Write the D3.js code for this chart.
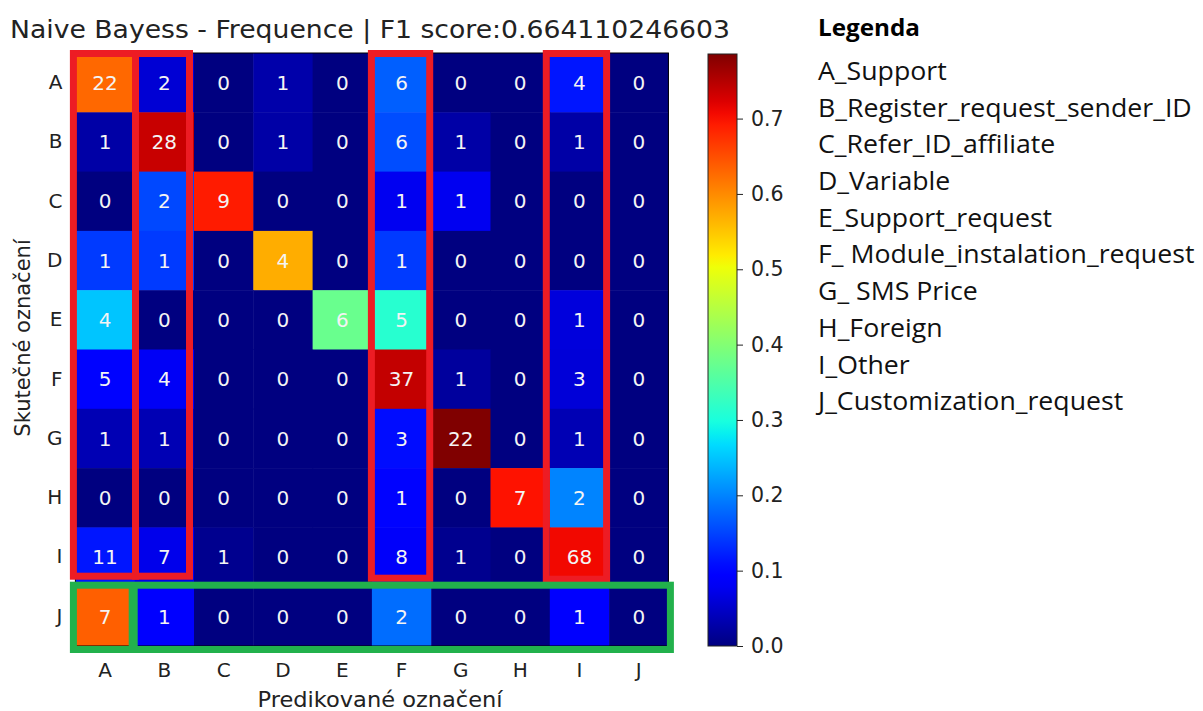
<!DOCTYPE html>
<html><head><meta charset="utf-8">
<script src="https://cdn.jsdelivr.net/npm/d3@7"></script>
<style>body{margin:0;background:#fff}</style>
</head><body>
<svg id="c" width="1203" height="711"></svg>
<script>
const labels = ["A","B","C","D","E","F","G","H","I","J"];
const counts = [
 [22,2,0,1,0,6,0,0,4,0],
 [1,28,0,1,0,6,1,0,1,0],
 [0,2,9,0,0,1,1,0,0,0],
 [1,1,0,4,0,1,0,0,0,0],
 [4,0,0,0,6,5,0,0,1,0],
 [5,4,0,0,0,37,1,0,3,0],
 [1,1,0,0,0,3,22,0,1,0],
 [0,0,0,0,0,1,0,7,2,0],
 [11,7,1,0,0,8,1,0,68,0],
 [7,1,0,0,0,2,0,0,1,0]
];
const cbTicks = [0,0.1,0.2,0.3,0.4,0.5,0.6,0.7];
const legendItems = ["A_Support","B_Register_request_sender_ID","C_Refer_ID_affiliate","D_Variable","E_Support_request","F_ Module_instalation_request","G_ SMS Price","H_Foreign","I_Other","J_Customization_request"];
const titleText = "Naive Bayess - Frequence | F1 score:0.664110246603";

const norm = counts.map(r => { const s = d3.sum(r); return r.map(v => v / s); });
const vmax = d3.max(norm.flat());

function interp(pts, t){
  for (let i=1;i<pts.length;i++){
    if (t <= pts[i][0]) { const [x0,y0]=pts[i-1],[x1,y1]=pts[i]; return y0 + (y1-y0)*(t-x0)/(x1-x0); }
  }
  return pts[pts.length-1][1];
}
const R=[[0,0],[0.35,0],[0.66,1],[0.89,1],[1,0.5]];
const G=[[0,0],[0.125,0],[0.375,1],[0.64,1],[0.91,0],[1,0]];
const B=[[0,0.5],[0.11,1],[0.34,1],[0.65,0],[1,0]];
function jet(t){ t=Math.max(0,Math.min(1,t)); return d3.rgb(255*interp(R,t),255*interp(G,t),255*interp(B,t)).toString(); }

const svg = d3.select("#c");
const L=75.4, T=53, S=593;
const x = d3.scaleBand().domain(labels).range([L,L+S]);
const y = d3.scaleBand().domain(labels).range([T,T+S]);
const col = d3.scaleLinear().domain([0,vmax]).range([0,1]);
const bw = x.bandwidth();

const cells = [];
counts.forEach((r,i)=>r.forEach((v,j)=>cells.push({row:labels[i],col:labels[j],v,n:norm[i][j]})));
svg.append("g").selectAll("rect").data(cells).join("rect")
  .attr("x",d=>x(d.col)).attr("y",d=>y(d.row)).attr("width",bw+0.5).attr("height",bw+0.5)
  .attr("fill",d=>jet(col(d.n)));
svg.append("g").selectAll("text").data(cells).join("text")
  .attr("x",d=>x(d.col)+bw/2).attr("y",d=>y(d.row)+bw/2).attr("dy","0.36em")
  .attr("text-anchor","middle").attr("fill","#f4f4f4")
  .style("font-family","DejaVu Sans").style("font-size","20px").text(d=>d.v);

svg.append("rect").attr("x",L).attr("y",T).attr("width",S).attr("height",S).attr("fill","none").attr("stroke","#000").attr("stroke-width",1);

// axes
const xAxis = svg.append("g").attr("transform",`translate(0,${T+S})`).call(d3.axisBottom(x).tickSize(5).tickPadding(8));
const yAxis = svg.append("g").attr("transform",`translate(${L},0)`).call(d3.axisLeft(y).tickSize(5).tickPadding(8));
[xAxis,yAxis].forEach(a=>{a.select(".domain").remove(); a.selectAll("text").style("font-family","DejaVu Sans").style("font-size","20px").attr("fill","#222"); a.selectAll("line").attr("stroke","#222");});
xAxis.selectAll("text").attr("dy","0.9em");

svg.append("text").attr("x",380).attr("y",707).attr("text-anchor","middle")
  .attr("textLength",245).attr("lengthAdjust","spacingAndGlyphs")
  .style("font-family","DejaVu Sans").style("font-size","20.5px").attr("fill","#222").text("Predikované označení");
svg.append("text").attr("transform",`translate(30,338) rotate(-90)`).attr("text-anchor","middle")
  .style("font-family","DejaVu Sans").style("font-size","21px").attr("fill","#222").text("Skutečné označení");
svg.append("text").attr("x",10).attr("y",38)
  .attr("textLength",720).attr("lengthAdjust","spacingAndGlyphs")
  .style("font-family","DejaVu Sans").style("font-size","24.5px").attr("fill","#222").text(titleText);

// colorbar
const cbX=708, cbW=29, cbT=54, cbB=646;
const cy = d3.scaleLinear().domain([0,vmax]).range([cbB,cbT]);
const defs = svg.append("defs");
const grad = defs.append("linearGradient").attr("id","jetg").attr("x1",0).attr("y1",1).attr("x2",0).attr("y2",0);
d3.range(0,1.0001,0.02).forEach(t=>grad.append("stop").attr("offset",t).attr("stop-color",jet(t)));
svg.append("rect").attr("x",cbX).attr("y",cbT).attr("width",cbW).attr("height",cbB-cbT).attr("fill","url(#jetg)").attr("stroke","#222").attr("stroke-width",1);
const cAxis = svg.append("g").attr("transform",`translate(${cbX+cbW},0)`).call(d3.axisRight(cy).tickValues(cbTicks).tickFormat(d3.format(".1f")).tickSize(6).tickPadding(8));
cAxis.select(".domain").remove();
cAxis.selectAll("text").style("font-family","DejaVu Sans").style("font-size","20.5px").attr("fill","#222");
cAxis.selectAll("line").attr("stroke","#222");

// highlight boxes
const red="#ed1c24", green="#22b14c", sw=7;
const yTop = y("A"), yBotI = y("I")+bw;
const boxes = [
  {x0:x("A")-2, x1:x("A")+bw+0.8, bot:yBotI-10.5},
  {x0:x("B")+0.8, x1:x("B")+bw-4.5, bot:yBotI-10.5},
  {x0:x("F")-0.5, x1:x("F")+bw-1.5, bot:yBotI-8.5},
  {x0:x("I")-3.5, x1:x("I")+bw-2.5, bot:yBotI-7.5}
];
svg.append("g").selectAll("rect").data(boxes).join("rect")
  .attr("x",d=>d.x0).attr("y",yTop+0.5).attr("width",d=>d.x1-d.x0).attr("height",d=>d.bot-yTop-0.5)
  .attr("fill","none").attr("stroke",red).attr("stroke-width",sw);
svg.append("rect").attr("x",x("A")-2).attr("y",y("J")-1.5).attr("width",x("J")+bw+2-(x("A")-2)).attr("height",bw+5)
  .attr("fill","none").attr("stroke",green).attr("stroke-width",sw);
svg.append("line").attr("x1",x("B")-1.5).attr("x2",x("B")-1.5).attr("y1",y("J")).attr("y2",y("J")+bw+3)
  .attr("stroke",green).attr("stroke-width",9);

// legend
const lg = svg.append("g").attr("transform","translate(818,0) scale(1.055,1)").style("font-family","'Open Sans'");
lg.append("text").attr("x",0).attr("y",36).style("font-size","23px").style("font-weight","bold").attr("fill","#000").text("Legenda");
lg.selectAll("text.item").data(legendItems).join("text").attr("class","item")
  .attr("x",0).attr("y",(d,i)=>80+i*36.7).style("font-size","25.3px").attr("fill","#111").text(d=>d);
</script>
</body></html>
